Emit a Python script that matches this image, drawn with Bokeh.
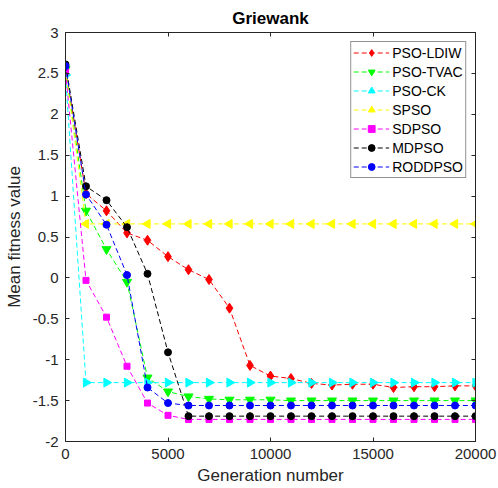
import math
from bokeh.plotting import figure
from bokeh.models import Range1d, FixedTicker, LinearAxis, ColumnDataSource
from bokeh.embed import file_html
from bokeh.resources import INLINE

gen = [0, 1000, 2000, 3000, 4000, 5000, 6000, 7000, 8000, 9000, 10000,
       11000, 12000, 13000, 14000, 15000, 16000, 17000, 18000, 19000, 20000]

pso_ldiw = [2.55, 1.03, 0.82, 0.55, 0.46, 0.26, 0.10, -0.02, -0.37, -1.07, -1.20,
            -1.23, -1.29, -1.31, -1.30, -1.30, -1.34, -1.33, -1.33, -1.32, -1.32]
pso_tvac = [2.55, 0.82, 0.35, -0.05, -1.22, -1.39, -1.45, -1.48, -1.49, -1.49, -1.49,
            -1.50, -1.50, -1.50, -1.50, -1.50, -1.50, -1.50, -1.50, -1.50, -1.50]
pso_ck = [2.48, -1.28, -1.28, -1.28, -1.28, -1.28, -1.28, -1.28, -1.28, -1.28, -1.28,
          -1.28, -1.28, -1.28, -1.28, -1.28, -1.28, -1.28, -1.28, -1.28, -1.28]
spso = [2.55, 0.66, 0.66, 0.66, 0.66, 0.66, 0.66, 0.66, 0.66, 0.66, 0.66,
        0.66, 0.66, 0.66, 0.66, 0.66, 0.66, 0.66, 0.66, 0.66, 0.66]
sdpso = [2.52, -0.03, -0.48, -1.08, -1.53, -1.68, -1.73, -1.73, -1.73, -1.73, -1.73,
         -1.73, -1.73, -1.73, -1.73, -1.73, -1.73, -1.73, -1.73, -1.73, -1.73]
mdpso = [2.61, 1.12, 0.95, 0.62, 0.05, -0.91, -1.69, -1.69, -1.69, -1.69, -1.69,
         -1.69, -1.69, -1.69, -1.69, -1.69, -1.69, -1.69, -1.69, -1.69, -1.69]
roddpso = [2.59, 1.02, 0.65, 0.035, -1.34, -1.53, -1.56, -1.56, -1.56, -1.56, -1.56,
           -1.56, -1.56, -1.56, -1.56, -1.56, -1.56, -1.56, -1.56, -1.56, -1.56]

x_ticks = [0, 5000, 10000, 15000, 20000]
y_ticks = [-2, -1.5, -1, -0.5, 0, 0.5, 1, 1.5, 2, 2.5, 3]
y_tick_labels = ["-2", "-1.5", "-1", "-0.5", "0", "0.5", "1", "1.5", "2", "2.5", "3"]

series = [
    ("PSO-LDIW", pso_ldiw, "#ff0000", "diamond", 10, 0.0),
    ("PSO-TVAC", pso_tvac, "#00ff00", "inverted_triangle", 9, 0.0),
    ("PSO-CK", pso_ck, "#00ffff", "triangle", 9, -math.pi / 2),
    ("SPSO", spso, "#ffff00", "triangle", 9, math.pi / 2),
    ("SDPSO", sdpso, "#ff00ff", "square", 6, 0.0),
    ("MDPSO", mdpso, "#000000", "circle", 7, 0.0),
    ("RODDPSO", roddpso, "#0000ff", "circle", 7, 0.0),
]

FONT = "Liberation Sans"
AX = "#262626"

p = figure(width=498, height=488, output_backend="svg", toolbar_location=None,
           x_range=Range1d(0, 20000), y_range=Range1d(-2, 3),
           min_border_left=65, min_border_right=23, min_border_top=32, min_border_bottom=47)
p.background_fill_color = "white"
p.border_fill_color = "white"
p.outline_line_color = AX
p.xgrid.visible = False
p.ygrid.visible = False

p.title.text = "Griewank"
p.title.align = "center"
p.title.text_font = FONT
p.title.text_font_size = "17px"
p.title.text_font_style = "bold"
p.title.text_color = "black"

for s_name, vals, col, mk, sz, ang in series:
    src = ColumnDataSource(dict(x=gen, y=vals, a=[ang] * len(gen)))
    p.line("x", "y", source=src, line_color=col, line_width=1, line_dash="5 3",
           legend_label=s_name)
    p.scatter("x", "y", source=src, marker=mk, size=sz, angle="a", fill_color=col,
              line_color=col, legend_label=s_name)

def style_axis(ax):
    ax.major_tick_in = 4
    ax.major_tick_out = 0
    ax.minor_tick_in = 0
    ax.minor_tick_out = 0
    ax.axis_line_color = AX
    ax.major_tick_line_color = AX
    ax.major_label_text_font = FONT
    ax.major_label_text_color = AX
    ax.major_label_text_font_size = "15px"
    ax.axis_label_text_font = FONT
    ax.axis_label_text_font_size = "17px"
    ax.axis_label_text_font_style = "normal"
    ax.axis_label_text_color = AX

p.xaxis.ticker = FixedTicker(ticks=x_ticks)
p.yaxis.ticker = FixedTicker(ticks=y_ticks)
p.yaxis.major_label_overrides = {t: l for t, l in zip(y_ticks, y_tick_labels)}
p.xaxis.major_label_overrides = {t: str(t) for t in x_ticks}
p.xaxis.axis_label = "Generation number"
p.yaxis.axis_label = "Mean fitness value"
style_axis(p.xaxis[0])
style_axis(p.yaxis[0])
p.xaxis.major_label_standoff = 7
p.yaxis.major_label_standoff = 7
p.xaxis.axis_label_standoff = 4
p.yaxis.axis_label_standoff = 6

top = LinearAxis(ticker=FixedTicker(ticks=x_ticks))
style_axis(top)
top.major_label_overrides = {t: "" for t in x_ticks}
top.major_label_standoff = 0
p.add_layout(top, "above")
right = LinearAxis(ticker=FixedTicker(ticks=y_ticks))
style_axis(right)
right.major_label_overrides = {t: "" for t in y_ticks}
right.major_label_standoff = 0
p.add_layout(right, "right")

lg = p.legend[0]
lg.location = "top_right"
lg.margin = 9
lg.padding = 2
lg.spacing = 2
lg.glyph_height = 17
lg.label_height = 17
lg.glyph_width = 36
lg.label_standoff = 3
lg.label_text_font = FONT
lg.label_text_font_size = "14px"
lg.label_text_color = "black"
lg.border_line_color = AX
lg.border_line_width = 1
lg.background_fill_color = "white"
lg.background_fill_alpha = 1.0

open("out.html", "w").write(file_html(p, INLINE))
